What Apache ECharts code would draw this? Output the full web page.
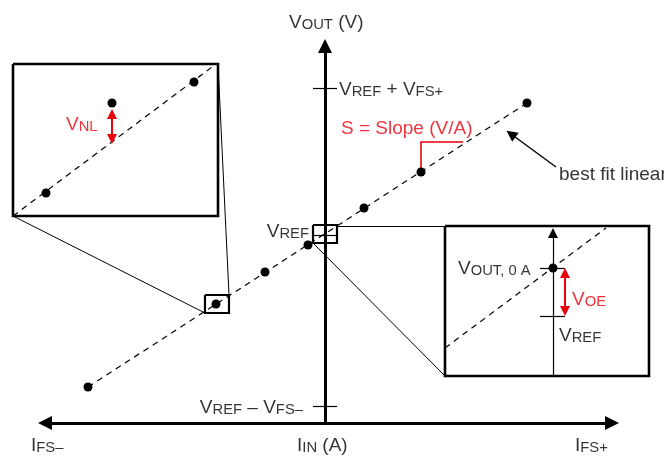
<!DOCTYPE html>
<html>
<head>
<meta charset="utf-8">
<script src="https://cdn.jsdelivr.net/npm/echarts@6/dist/echarts.min.js"></script>
<style>
  html, body { margin: 0; padding: 0; background: #fff; }
  #chart { width: 664px; height: 458px; }
</style>
</head>
<body>
<div id="chart"></div>
<script>
// diagram units: x = I_IN direction, y = V_OUT direction (drawn top-down)
var fitLine = [[88, 387], [527, 103]];
var fitPoints = [[88, 387], [216, 304], [265, 272], [308, 245], [364, 208], [421, 172], [527, 103]];

var yAxisLine = [[325, 423], [325, 46]];
var xAxisLine = [[45, 423], [612, 423]];
var yTicks = [[[313, 88], [337, 88]], [[313, 406], [337, 406]], [[313, 235], [337, 235]]];

// zoom boxes [x0, y0, x1, y1]
var boxNL = [205, 295, 229, 313];
var boxOE = [313, 225, 337, 243];
var insetNL = [13, 64, 218, 216];
var insetOE = [445, 226, 649, 376];
var connectors = [
  [[218, 64], [229, 295]],
  [[13, 216], [205, 313]],
  [[337, 226], [445, 226]],
  [[313, 243], [445, 376]]
];

// inset (nonlinearity)
var nlLine = [[13, 216], [216, 64]];
var nlPoints = [[46, 193], [194, 82], [112, 103]];
var nlArrow = [[112, 114], [112, 139]];

// inset (offset)
var oeAxis = [[553, 376], [553, 233]];
var oeLine = [[445, 348], [606, 228]];
var oePoints = [[553, 268]];
var oeTicks = [[[540, 268], [565, 268]], [[540, 316], [565, 316]]];
var oeArrow = [[565, 273], [565, 311]];

var slopeMark = [[421, 172], [421, 142], [463, 142]];
var bestFitArrow = [[556, 167], [511, 134]];

// labels: [x, y, side, text, colour]
var labels = [
  [289, 21, 'r', '{m|V}{s|OUT}{m| (V)}', 'k'],
  [339, 88, 'r', '{m|V}{s|REF}{m| + V}{s|FS+}', 'k'],
  [303, 406, 'l', '{m|V}{s|REF}{m| – V}{s|FS–}', 'k'],
  [309, 230, 'l', '{m|V}{s|REF}', 'k'],
  [31, 444, 'r', '{m|I}{s|FS–}', 'k'],
  [297, 444, 'r', '{m|I}{s|IN}{m| (A)}', 'k'],
  [575, 444, 'r', '{m|I}{s|FS+}', 'k'],
  [341, 127, 'r', '{m|S = Slope (V/A)}', 'r'],
  [559, 173, 'r', '{m|best fit linear}', 'k'],
  [66, 123, 'r', '{m|V}{s|NL}', 'r'],
  [458, 267, 'r', '{m|V}{s|OUT, 0 A}', 'k'],
  [572, 298, 'r', '{m|V}{s|OE}', 'r'],
  [559, 334, 'r', '{m|V}{s|REF}', 'k']
];

var BLACK = '#000000';
var RED = '#e8000b';
var FONT = 'Liberation Sans';

function rect(b) {
  return [[b[0], b[1]], [b[2], b[1]], [b[2], b[3]], [b[0], b[3]], [b[0], b[1]]];
}

function linesSeries(list, color, width, extra) {
  var s = {
    type: 'lines',
    coordinateSystem: 'cartesian2d',
    polyline: list[0].length > 2,
    silent: true,
    symbol: 'none',
    data: list.map(function (c) { return { coords: c }; }),
    lineStyle: { color: color, width: width, opacity: 1 }
  };
  if (extra) {
    for (var k in extra) {
      if (k === 'dash') s.lineStyle.type = extra[k];
      else s[k] = extra[k];
    }
  }
  return s;
}

function rich(color) {
  return {
    m: { fontSize: 19, fontFamily: FONT, color: color, verticalAlign: 'bottom', lineHeight: 23 },
    s: { fontSize: 14.8, fontFamily: FONT, color: color, verticalAlign: 'bottom', lineHeight: 22 }
  };
}

var chart = echarts.init(document.getElementById('chart'));

var option = {
  animation: false,
  grid: { left: 0, right: 0, top: 0, bottom: 0 },
  xAxis: { type: 'value', min: 0, max: 664, show: false },
  yAxis: { type: 'value', min: 0, max: 458, inverse: true, show: false },
  series: [
    linesSeries(connectors, BLACK, 1),
    linesSeries([rect(insetNL), rect(insetOE)], BLACK, 2.6),
    linesSeries([rect(boxNL), rect(boxOE)], BLACK, 2.2),
    linesSeries([fitLine, nlLine, oeLine], BLACK, 1.2, { dash: [6, 5] }),
    linesSeries([yAxisLine], BLACK, 3, { symbol: ['none', 'triangle'], symbolSize: 14 }),
    linesSeries([xAxisLine], BLACK, 3, { symbol: ['triangle', 'triangle'], symbolSize: 14 }),
    linesSeries(yTicks, BLACK, 1.2),
    linesSeries([oeAxis], BLACK, 1.2, { symbol: ['none', 'triangle'], symbolSize: 10 }),
    linesSeries(oeTicks, BLACK, 1.2),
    linesSeries([nlArrow, oeArrow], RED, 2, { symbol: ['triangle', 'triangle'], symbolSize: 10 }),
    linesSeries([slopeMark], RED, 1.6),
    linesSeries([bestFitArrow], BLACK, 1.4, { symbol: ['none', 'triangle'], symbolSize: 11 }),
    {
      type: 'scatter',
      silent: true,
      symbolSize: 9,
      itemStyle: { color: BLACK, opacity: 1 },
      data: fitPoints.concat(nlPoints, oePoints),
      z: 5
    },
    {
      type: 'scatter',
      silent: true,
      symbolSize: 0,
      z: 6,
      data: labels.map(function (l) {
        return {
          value: [l[0], l[1]],
          label: {
            show: true,
            position: l[2] === 'r' ? 'right' : 'left',
            distance: 0,
            formatter: l[3],
            rich: rich(l[4] === 'r' ? RED : BLACK)
          }
        };
      })
    }
  ]
};

chart.setOption(option);
</script>
</body>
</html>
